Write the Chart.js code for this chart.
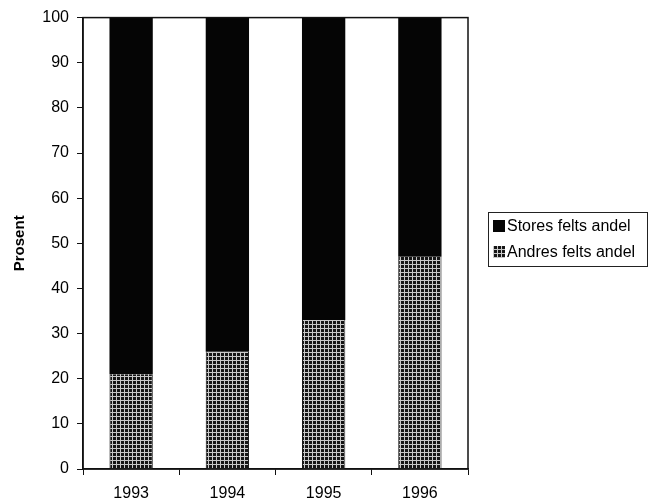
<!DOCTYPE html>
<html>
<head>
<meta charset="utf-8">
<script src="https://cdn.jsdelivr.net/npm/chart.js@4"></script>
<style>
  body { margin: 0; background: #fff; }
  #wrap { position: relative; width: 650px; height: 502px; }
  #legend {
    position: absolute; left: 488px; top: 212px; width: 160px; height: 55px;
    border: 1px solid #222; box-sizing: border-box; font: 16px "Liberation Sans", Arial, sans-serif;
    color: #000; padding: 0 0 0 4px; line-height: 26px; white-space: nowrap;
  }
  .sw { display: inline-block; width: 12px; height: 12px; margin-right: 2px; vertical-align: -1px; }
  .pat {
    background-color: #151515;
    background-image: repeating-linear-gradient(0deg, #c8c8c8 0 1px, transparent 1px 4px),
                      repeating-linear-gradient(90deg, #c8c8c8 0 1px, transparent 1px 4px);
  }
</style>
</head>
<body>
<div id="wrap">
  <canvas id="chart" width="650" height="502"></canvas>
  <div id="legend"></div>
</div>
<script>
const years = ["1993", "1994", "1995", "1996"];
const andresAndel = [21, 26, 33, 47];
const storesAndel = [79, 74, 67, 53];
const yTicks = [0, 10, 20, 30, 40, 50, 60, 70, 80, 90, 100];

// dotted grid fill for the lower segment
function makePattern() {
  const c = document.createElement("canvas");
  c.width = 4; c.height = 4;
  const p = c.getContext("2d");
  p.fillStyle = "#151515";
  p.fillRect(0, 0, 4, 4);
  p.fillStyle = "#c8c8c8";
  p.fillRect(0, 0, 4, 1);
  p.fillRect(0, 0, 1, 4);
  return p.createPattern(c, "repeat");
}
const ctx = document.getElementById("chart").getContext("2d");
const pattern = makePattern();

const frame = {
  id: "frame",
  afterDatasetsDraw(chart) {
    const a = chart.chartArea, g = chart.ctx;
    g.save();
    g.strokeStyle = "#111";
    g.lineWidth = 1.5;
    g.strokeRect(a.left, a.top, a.right - a.left, a.bottom - a.top);
    g.restore();
  }
};

const font = { family: "'Liberation Sans', Arial, sans-serif", size: 16 };

new Chart(ctx, {
  type: "bar",
  data: {
    labels: years,
    datasets: [
      {
        label: "Andres felts andel",
        data: andresAndel,
        backgroundColor: pattern,
        borderColor: "#111",
        borderWidth: { left: 1, right: 1 },
        barPercentage: 0.45,
        categoryPercentage: 1
      },
      {
        label: "Stores felts andel",
        data: storesAndel,
        backgroundColor: "#050505",
        barPercentage: 0.45,
        categoryPercentage: 1
      }
    ]
  },
  options: {
    responsive: false,
    animation: false,
    layout: { padding: { left: 0, right: 182, top: 16, bottom: 0 } },
    plugins: { legend: { display: false }, tooltip: { enabled: false } },
    scales: {
      x: {
        stacked: true,
        afterFit: s => { s.height = 33; },
        grid: { offset: true, drawOnChartArea: false, tickLength: 6, color: "#111" },
        border: { color: "#111", width: 1.5 },
        ticks: { color: "#000", font: font, padding: 9 }
      },
      y: {
        stacked: true,
        min: 0, max: 100,
        afterFit: s => { s.width = 83; },
        afterBuildTicks: s => { s.ticks = yTicks.map(v => ({ value: v })); },
        grid: { drawOnChartArea: false, tickLength: 6, color: "#111" },
        border: { color: "#111", width: 1.5 },
        ticks: { color: "#000", font: font, padding: 8 },
        title: { display: true, text: "Prosent", color: "#000",
                 font: { family: font.family, size: 15, weight: "bold" }, padding: { top: 11 } }
      }
    }
  },
  plugins: [frame]
});

// legend (top segment listed first)
const lg = document.getElementById("legend");
lg.innerHTML =
  '<div><span class="sw" style="background:#050505"></span>Stores felts andel</div>' +
  '<div><span class="sw pat"></span>Andres felts andel</div>';
</script>
</body>
</html>
